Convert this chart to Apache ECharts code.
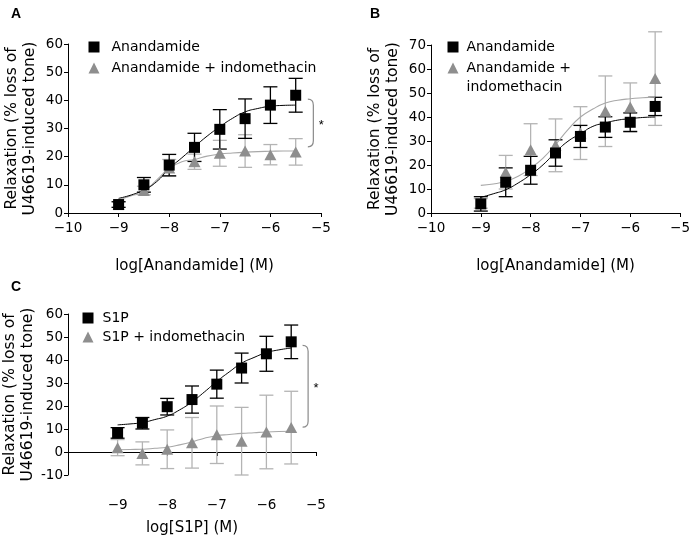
<!DOCTYPE html>
<html><head><meta charset="utf-8">
<script src="https://cdn.jsdelivr.net/npm/echarts@6/dist/echarts.min.js"></script>
<style>html,body{margin:0;padding:0;background:#fff}#c{width:693px;height:537px}</style>
</head><body><div id="c"></div>
<script>
// ---- data ----
const doses = [-9, -8.5, -8, -7.5, -7, -6.5, -6, -5.5];
const fitX = [-9, -8.75, -8.5, -8.25, -8, -7.75, -7.5, -7.25, -7, -6.75, -6.5, -6.25, -6, -5.75, -5.5];
const xTicks = [-10, -9, -8, -7, -6, -5];

// Panel A
const aAnaMean = [3, 10, 17, 23.3, 29.7, 33.5, 38.3, 41.8];
const aAnaSem = [1, 2.6, 3.8, 5, 7, 7, 6.5, 6];
const aIndoMean = [3, 8, 16, 18.2, 21.2, 22, 20.7, 21.7];
const aIndoSem = [1, 1.5, 3, 2.7, 4.6, 5.8, 3.6, 4.7];
const aAnaFit = [5.2, 6.4, 8.2, 11.1, 15.8, 19.6, 23.5, 27.3, 30.6, 33.6, 35.9, 37.1, 37.9, 38.2, 38.3];
const aIndoFit = [4.6, 6.1, 7.6, 11.7, 15.8, 18.2, 19, 20.2, 20.9, 21.3, 21.6, 21.8, 21.9, 22, 22];
const aBracket = [[-5.26, 40.4, 23.5]];

// Panel B
const bAnaMean = [3.8, 12.8, 17.8, 25, 31.9, 35.8, 37.8, 44.4];
const bAnaSem = [3, 6, 5.8, 5.5, 4.6, 4.3, 3.9, 3.8];
const bIndoMean = [4, 17, 26.4, 28.2, 33.3, 42.4, 44.2, 56];
const bIndoSem = [2, 7, 10.8, 11, 11, 14.7, 10, 19.5];
const bAnaFit = [6.5, 8, 9.7, 12.5, 16, 20.1, 25.3, 29.9, 33, 36.1, 37.5, 38.7, 39.3, 39.8, 40];
const bIndoFit = [11.5, 12.1, 13.2, 15.3, 18.7, 22.9, 28.5, 34.7, 40, 43.3, 45.8, 47, 47.6, 48, 48.3];

// Panel C
const cS1pMean = [8.3, 12.5, 19.7, 22.8, 29.5, 36.5, 42.7, 47.9];
const cS1pSem = [2.3, 2.5, 3.6, 5.9, 6.1, 6.5, 7.6, 7.3];
const cIndoMean = [1.9, -0.6, 1.2, 4, 7.5, 4.7, 8.7, 10.6];
const cIndoSem = [3.5, 5, 8.4, 11, 12.5, 14.7, 16, 15.8];
const cS1pFit = [11.8, 12.2, 12.8, 14.1, 15.6, 18.3, 21.8, 26.1, 30.7, 34.8, 38.6, 41.1, 43.2, 44.4, 45.2];
const cIndoFit = [1.0, 1.1, 1.2, 1.6, 2.1, 3.1, 4.4, 6.0, 7.1, 7.6, 8.1, 8.4, 8.7, 8.9, 9.0];
const cBracket = [[-5.27, 46.4, 10.8]];

// ---- styling ----
const FF = '"DejaVu Sans", Verdana, sans-serif';
const FFB = '"Liberation Sans", Arial, Helvetica, sans-serif';
const BLACK = '#000';
const GRAY_MK = '#8e8e8e';
const GRAY_ERR = '#b4b4b4';
const GRAY_FIT = '#a8a8a8';
const yName = 'Relaxation (% loss of\nU46619-induced tone)';

const fmtX = v => String(v).replace('-', '\u2212');

function xAxisCfg(gi, name, hideFirst, margin) {
  return {
    type: 'value', gridIndex: gi, min: -10, max: -5, interval: 1,
    name: name, nameLocation: 'middle', nameGap: 46,
    nameTextStyle: { fontSize: 15, color: BLACK, fontFamily: FF },
    axisLine: { show: true, onZero: true, lineStyle: { color: BLACK, width: 1 } },
    axisTick: { show: true, length: 4, lineStyle: { color: BLACK, width: 1 } },
    axisLabel: { fontSize: 13.5, color: BLACK, fontFamily: FF, margin: margin,
      formatter: v => (hideFirst && v === xTicks[0]) ? '' : fmtX(v) },
    splitLine: { show: false }
  };
}
function yAxisCfg(gi, min, max) {
  return {
    type: 'value', gridIndex: gi, min: min, max: max, interval: 10,
    name: yName, nameLocation: 'middle', nameGap: 29, nameRotate: 90,
    nameTextStyle: { fontSize: 15.5, lineHeight: 18, color: BLACK, fontFamily: FF },
    axisLine: { show: true, onZero: false, lineStyle: { color: BLACK, width: 1 } },
    axisTick: { show: true, length: 4, lineStyle: { color: BLACK, width: 1 } },
    axisLabel: { fontSize: 13.5, color: BLACK, fontFamily: FF, margin: 5 },
    splitLine: { show: false }
  };
}

function errRender(color) {
  return function (params, api) {
    const x = api.value(0), m = api.value(1), s = api.value(2);
    const t = api.coord([x, m + s]), b = api.coord([x, m - s]);
    const cw = 7;
    const st = { stroke: color, lineWidth: 1.3 };
    return { type: 'group', children: [
      { type: 'line', shape: { x1: t[0], y1: t[1], x2: b[0], y2: b[1] }, style: st },
      { type: 'line', shape: { x1: t[0] - cw, y1: t[1], x2: t[0] + cw, y2: t[1] }, style: st },
      { type: 'line', shape: { x1: b[0] - cw, y1: b[1], x2: b[0] + cw, y2: b[1] }, style: st }
    ] };
  };
}
function bracketRender(params, api) {
  const x = api.value(0), yt = api.value(1), yb = api.value(2);
  const p1 = api.coord([x, yt]), p2 = api.coord([x, yb]);
  const w = 5.5, r = 6;
  const d = 'M' + p1[0] + ' ' + p1[1] +
    ' Q' + (p1[0] + w) + ' ' + p1[1] + ' ' + (p1[0] + w) + ' ' + (p1[1] + r) +
    ' L' + (p2[0] + w) + ' ' + (p2[1] - r) +
    ' Q' + (p2[0] + w) + ' ' + p2[1] + ' ' + p2[0] + ' ' + p2[1];
  return { type: 'group', children: [
    { type: 'path', shape: { pathData: d }, style: { stroke: '#8a8a8a', fill: null, lineWidth: 1.2 } },
    { type: 'text', x: p1[0] + w + 8, y: (p1[1] + p2[1]) / 2 + 2,
      style: { text: '*', fontSize: 13, fontFamily: FFB, fill: BLACK, align: 'center', verticalAlign: 'middle' } }
  ] };
}

const zip3 = (m, s) => doses.map((d, i) => [d, m[i], s[i]]);
const zip2 = (xs, ys) => xs.map((d, i) => [d, ys[i]]);

function panelSeries(gi, nameBlack, nameGray, mB, sB, mG, sG, fB, fG, bracket) {
  const out = [
    { type: 'custom', xAxisIndex: gi, yAxisIndex: gi, renderItem: errRender(GRAY_ERR), data: zip3(mG, sG), z: 1, silent: true },
    { type: 'custom', xAxisIndex: gi, yAxisIndex: gi, renderItem: errRender(BLACK), data: zip3(mB, sB), z: 2, silent: true },
    { type: 'line', xAxisIndex: gi, yAxisIndex: gi, data: zip2(fitX, fG), smooth: true, showSymbol: false,
      lineStyle: { color: GRAY_FIT, width: 1.1 }, z: 3, silent: true },
    { type: 'line', xAxisIndex: gi, yAxisIndex: gi, data: zip2(fitX, fB), smooth: true, showSymbol: false,
      lineStyle: { color: BLACK, width: 1 }, z: 3, silent: true },
    { type: 'scatter', name: nameGray, xAxisIndex: gi, yAxisIndex: gi, data: zip2(doses, mG),
      symbol: 'triangle', symbolSize: [12, 11], itemStyle: { color: GRAY_MK, opacity: 1 }, z: 4 },
    { type: 'scatter', name: nameBlack, xAxisIndex: gi, yAxisIndex: gi, data: zip2(doses, mB),
      symbol: 'rect', symbolSize: 11, itemStyle: { color: BLACK, opacity: 1 }, z: 5 }
  ];
  if (bracket) out.push({ type: 'custom', xAxisIndex: gi, yAxisIndex: gi, renderItem: bracketRender, data: bracket, z: 6, silent: true, clip: false });
  return out;
}

function legendCfg(left, top, gap, padL, data, formatter) {
  const l = {
    orient: 'vertical', left: left, top: top, padding: 0,
    itemWidth: 11, itemHeight: 11, itemGap: gap, selectedMode: false,
    itemStyle: { opacity: 1 },
    textStyle: { fontSize: 14, color: BLACK, fontFamily: FF, lineHeight: 16, padding: [0, 0, 0, padL] },
    data: data
  };
  if (formatter) l.formatter = formatter;
  return l;
}

const option = {
  animation: false,
  backgroundColor: '#fff',
  textStyle: { fontFamily: FF },
  grid: [
    { left: 68, top: 44, width: 253, height: 169 },
    { left: 431, top: 45, width: 254, height: 168 },
    { left: 68, top: 314, width: 248, height: 188 }
  ],
  xAxis: [
    xAxisCfg(0, 'log[Anandamide] (M)', false, 8),
    xAxisCfg(1, 'log[Anandamide] (M)', false, 8),
    xAxisCfg(2, 'log[S1P] (M)', true, 23)
  ],
  yAxis: [yAxisCfg(0, 0, 60), yAxisCfg(1, 0, 70), yAxisCfg(2, -10, 60)],
  legend: [
    legendCfg(88.5, 39, 5, 7, [{ name: 'Anandamide', icon: 'rect' }, { name: 'Anandamide + indomethacin', icon: 'triangle' }]),
    legendCfg(447.5, 39, -15.5, 3,
      [{ name: 'Anandamide', icon: 'rect' },
       { name: 'Anandamide +\nindomethacin', icon: 'triangle',
         textStyle: { fontSize: 14, color: BLACK, fontFamily: FF, lineHeight: 19, padding: [0, 0, 0, 3] } }],
      name => name.indexOf('\n') >= 0 ? '\n' + name : name),
    legendCfg(82.5, 310, 3, 4, [{ name: 'S1P', icon: 'rect' }, { name: 'S1P + indomethacin', icon: 'triangle' }])
  ],
  graphic: [
    { type: 'text', left: 11, top: 7, style: { text: 'A', fontSize: 14, fontWeight: 'bold', fontFamily: FFB, fill: BLACK } },
    { type: 'text', left: 370, top: 7, style: { text: 'B', fontSize: 14, fontWeight: 'bold', fontFamily: FFB, fill: BLACK } },
    { type: 'text', left: 11, top: 280, style: { text: 'C', fontSize: 14, fontWeight: 'bold', fontFamily: FFB, fill: BLACK } }
  ],
  series: [].concat(
    panelSeries(0, 'Anandamide', 'Anandamide + indomethacin', aAnaMean, aAnaSem, aIndoMean, aIndoSem, aAnaFit, aIndoFit, aBracket),
    panelSeries(1, 'Anandamide', 'Anandamide +\nindomethacin', bAnaMean, bAnaSem, bIndoMean, bIndoSem, bAnaFit, bIndoFit, null),
    panelSeries(2, 'S1P', 'S1P + indomethacin', cS1pMean, cS1pSem, cIndoMean, cIndoSem, cS1pFit, cIndoFit, cBracket)
  )
};

const chart = echarts.init(document.getElementById('c'), null, { renderer: 'canvas' });
chart.setOption(option);
</script>
</body></html>
